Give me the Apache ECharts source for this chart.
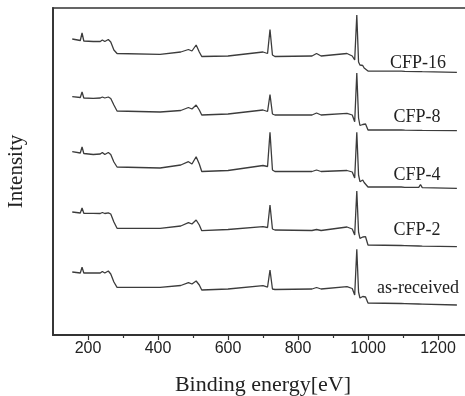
<!DOCTYPE html>
<html><head><meta charset="utf-8">
<script src="https://cdn.jsdelivr.net/npm/echarts@6/dist/echarts.min.js"></script>
<style>html,body{margin:0;padding:0;background:#fff}#c{width:465px;height:396px}</style>
</head><body><div id="c"></div>
<script>
const energy = [155, 178, 183, 188, 215, 235, 241, 248, 258, 265, 274, 283, 406, 465, 487, 497, 509, 518, 525, 600, 700, 713, 720, 727, 734, 840, 853, 866, 940, 955, 962, 968, 973, 977, 981, 985, 989, 993, 1000, 1095, 1100, 1105, 1145, 1150, 1155, 1254];
const cfp16 = [296, 294.5, 302, 294, 293.5, 293.5, 295, 293.5, 295.5, 293, 285, 281.5, 280.7, 283, 285.5, 284, 290, 283, 278.5, 279, 283, 281.5, 305.5, 280, 278.5, 279, 281.5, 279, 281.5, 279, 275, 320, 273, 270, 268, 269.5, 267, 268.5, 264, 263.8, 263.8, 263.7, 263.4, 263.4, 263.3, 262.7];
const cfp8 = [238.3, 237.5, 243, 237, 236.7, 237, 238, 237, 238, 236.5, 230, 224, 223, 224.5, 227.5, 226, 230, 225, 220, 221, 225, 223.5, 240.5, 221, 220, 220, 222, 220, 221.7, 220, 213.3, 262, 217, 209.5, 209, 210.5, 208.5, 211, 205, 205, 205, 204.9, 204.7, 204.7, 204.6, 204.3];
const cfp4 = [183.3, 182, 188, 181.5, 180.5, 181, 182.5, 180.5, 182.5, 180.5, 173, 168, 167, 170, 173.3, 171, 178.3, 171, 163.5, 164.5, 169.5, 168.5, 202.7, 165, 163.5, 163.5, 165, 163.5, 164.5, 163, 157, 202.7, 160, 153.3, 153, 155, 152.5, 154, 148, 148, 150, 147.7, 147.6, 150.5, 147.4, 146.7];
const cfp2 = [123, 122, 127, 121.7, 121.7, 121.5, 122.5, 121.5, 122.2, 121, 113, 106.7, 106.7, 109, 112.3, 111, 115, 110, 104.3, 105.5, 108.3, 107.5, 130, 106, 105, 104.5, 105.5, 104.5, 108, 106, 100, 144, 103, 96.7, 96.5, 98, 96.5, 98.3, 90, 89.5, 89.5, 89.4, 89, 89, 88.9, 88.3];
const asReceived = [63, 62, 67.7, 62, 62, 62, 63.5, 62, 64, 61, 53, 47.7, 47.7, 49.5, 52.3, 51, 54, 50, 45, 46, 49.3, 48, 65, 46, 45.5, 46, 47.5, 46, 48.3, 46.5, 40, 85.7, 43, 37, 36.5, 38.5, 36.5, 38, 32, 31.5, 31.5, 31.4, 31, 31, 30.9, 30];
const seriesNames = ['CFP-16', 'CFP-8', 'CFP-4', 'CFP-2', 'as-received'];
const seriesValues = [cfp16, cfp8, cfp4, cfp2, asReceived];
const majorTicks = [200, 400, 600, 800, 1000, 1200];
const minorTicks = [300, 500, 700, 900, 1100];

const chart = echarts.init(document.getElementById('c'), null, {renderer: 'canvas'});
const lineColor = '#3c3c3c';
const labelPos = [[418, 63], [417, 117], [417, 175], [417, 230], [418, 288]];

chart.setOption({
  animation: false,
  backgroundColor: '#fff',
  grid: {left: 53, top: 8, right: -8, bottom: 61, containLabel: false, outerBoundsMode: 'none', show: true, borderColor: '#333', borderWidth: 1.6, backgroundColor: 'transparent'},
  xAxis: [{
    type: 'value', min: 100, max: 1300, interval: 100, position: 'bottom',
    axisLine: {lineStyle: {color: '#333', width: 1.8}},
    axisTick: {show: true, customValues: majorTicks, length: 5, lineStyle: {color: '#333', width: 1.2}},
    axisLabel: {customValues: majorTicks, margin: 6, color: '#222', fontFamily: 'Liberation Sans, Arial, sans-serif', fontSize: 16, formatter: v => String(v)},
    splitLine: {show: false},
    name: 'Binding energy[eV]', nameLocation: 'middle', nameGap: 39,
    nameTextStyle: {fontFamily: 'Liberation Serif, Times New Roman, serif', fontSize: 22, color: '#222'}
  }, {
    type: 'value', min: 100, max: 1300, interval: 100, position: 'bottom',
    axisLine: {show: false},
    axisTick: {show: true, customValues: minorTicks, length: 3, lineStyle: {color: '#333', width: 1.2}},
    axisLabel: {show: false}, splitLine: {show: false}
  }],
  yAxis: {
    type: 'value', min: 0, max: 327,
    axisLine: {show: true, lineStyle: {color: '#333', width: 1.8}},
    axisTick: {show: false}, axisLabel: {show: false}, splitLine: {show: false},
    name: 'Intensity', nameLocation: 'middle', nameGap: 26,
    nameTextStyle: {fontFamily: 'Liberation Serif, Times New Roman, serif', fontSize: 21, color: '#222'}
  },
  series: seriesValues.map((vals, k) => ({
    name: seriesNames[k], type: 'line', xAxisIndex: 0, showSymbol: false, symbol: 'none',
    lineStyle: {color: lineColor, width: 1.3},
    data: energy.map((e, i) => [e, vals[i]])
  })),
  graphic: seriesNames.map((n, k) => ({
    type: 'text', x: labelPos[k][0], y: labelPos[k][1],
    style: {text: n, fill: '#222', font: '18px "Liberation Serif", "Times New Roman", serif', textAlign: 'center', textVerticalAlign: 'middle'}
  }))
});
</script></body></html>
